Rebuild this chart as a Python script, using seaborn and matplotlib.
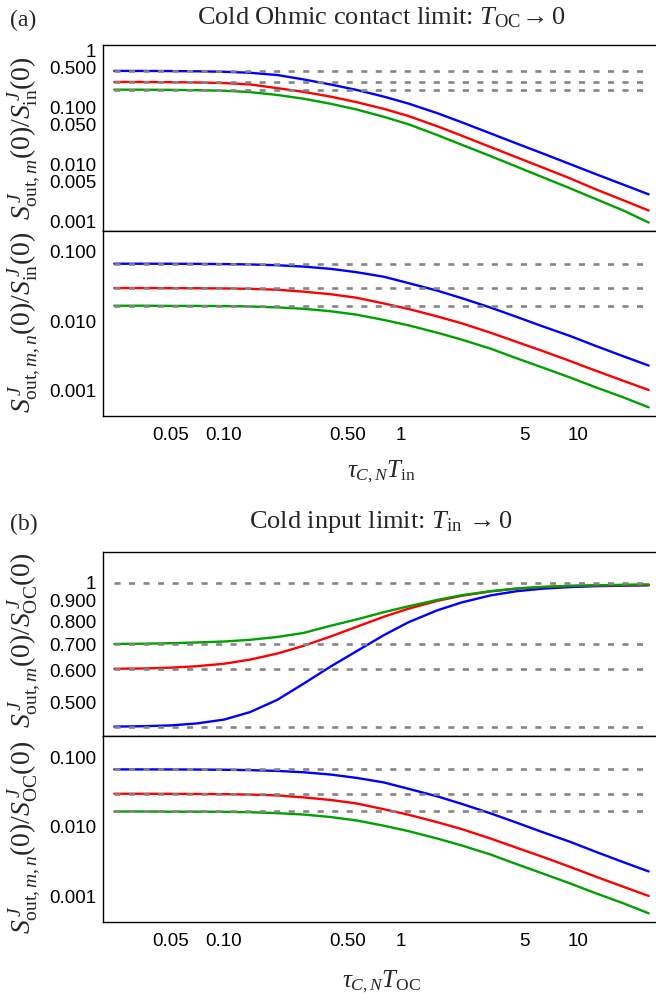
import matplotlib
matplotlib.use("Agg")
import matplotlib.pyplot as plt
import pandas as pd
import seaborn as sns
from matplotlib.ticker import FixedLocator, NullFormatter

x_vals = [0.024, 0.035, 0.05, 0.07, 0.1, 0.14, 0.2, 0.28, 0.4, 0.56, 0.8,
          1.1, 1.6, 2.2, 3.2, 4.5, 6.3, 9, 12.5, 18, 25]

# (a) top: S_out,m / S_in
a_top_blue = [0.442, 0.441, 0.439, 0.435, 0.427, 0.410, 0.374, 0.314, 0.255, 0.205, 0.156,
              0.118, 0.0800, 0.0553, 0.0353, 0.0234, 0.0157, 0.0102, 0.00685, 0.00444, 0.00300]
a_top_red = [0.283, 0.282, 0.280, 0.277, 0.270, 0.256, 0.220, 0.190, 0.156, 0.125, 0.0951,
             0.0713, 0.0471, 0.0322, 0.0203, 0.0134, 0.00888, 0.00573, 0.0037, 0.00236, 0.00156]
a_top_green = [0.207, 0.2066, 0.2052, 0.2028, 0.1981, 0.1875, 0.1671, 0.1439, 0.117, 0.0929, 0.0689,
               0.0511, 0.0330, 0.0223, 0.0141, 0.00918, 0.0060, 0.00383, 0.0025, 0.00156, 0.00096]
a_top_asym = [0.444, 0.284, 0.208]

# (a) bottom: S_out,m,n / S_in
a_bot_blue = [0.0676, 0.0676, 0.0675, 0.0673, 0.0668, 0.0660, 0.0643, 0.0615, 0.0570, 0.0510, 0.0438,
              0.0355, 0.0276, 0.0215, 0.0157, 0.0115, 0.0084, 0.0061, 0.0044, 0.0031, 0.00228]
a_bot_red = [0.0301, 0.0301, 0.0300, 0.0299, 0.0297, 0.0293, 0.0285, 0.0267, 0.0245, 0.0218, 0.0180,
             0.0150, 0.0117, 0.0093, 0.0068, 0.0050, 0.0037, 0.00265, 0.00193, 0.00137, 0.00101]
a_bot_green = [0.0167, 0.0167, 0.0166, 0.0166, 0.0165, 0.0163, 0.0158, 0.0151, 0.0139, 0.0124, 0.0104,
               0.0087, 0.0068, 0.0054, 0.0040, 0.0029, 0.00213, 0.00153, 0.00111, 0.00079, 0.000567]
a_bot_asym = [0.0676, 0.0301, 0.0167]

# (b) top: S_out,m / S_OC
b_top_blue = [0.434, 0.435, 0.437, 0.442, 0.452, 0.472, 0.507, 0.556, 0.615, 0.672, 0.738,
              0.795, 0.852, 0.892, 0.929, 0.952, 0.966, 0.975, 0.980, 0.983, 0.985]
b_top_red = [0.607, 0.608, 0.611, 0.616, 0.625, 0.640, 0.663, 0.693, 0.732, 0.774, 0.821,
             0.860, 0.900, 0.927, 0.951, 0.966, 0.975, 0.981, 0.984, 0.986, 0.987]
b_top_green = [0.701, 0.702, 0.704, 0.707, 0.711, 0.718, 0.730, 0.747, 0.779, 0.808, 0.843,
               0.872, 0.905, 0.930, 0.952, 0.967, 0.976, 0.982, 0.985, 0.988, 0.990]
b_top_asym = [1.0, 0.701, 0.607, 0.434]

# (b) bottom: S_out,m,n / S_OC (same curves as (a) bottom)
b_bot_blue = a_bot_blue
b_bot_red = a_bot_red
b_bot_green = a_bot_green
b_bot_asym = a_bot_asym

x_ticks = [0.05, 0.1, 0.5, 1, 5, 10]
x_ticklabels = ["0.05", "0.10", "0.50", "1", "5", "10"]
x_minor = [0.03, 0.04, 0.06, 0.07, 0.08, 0.09, 0.2, 0.3, 0.4, 0.6, 0.7, 0.8, 0.9,
           2, 3, 4, 6, 7, 8, 9, 20]

sns.set_style("white")
plt.rcParams["font.family"] = ["Liberation Sans", "DejaVu Sans"]
plt.rcParams["mathtext.fontset"] = "custom"
plt.rcParams["mathtext.rm"] = "Liberation Serif"
plt.rcParams["mathtext.it"] = "Liberation Serif:italic"
plt.rcParams["mathtext.bf"] = "Liberation Serif:bold"

COLORS = {"blue": "#0000ff", "red": "#ff0000", "green": "#00a000"}
W, H = 656, 1000
LEFT, RIGHT = 103.3, 656
XLIM = (0.0208, 27.5)


def add_panel(fig, top_px, bot_px):
    return fig.add_axes([LEFT / W, 1 - bot_px / H, (RIGHT - LEFT) / W, (bot_px - top_px) / H])


def draw(ax, blue, red, green, asym, ylim, yticks, yticklabels, yminor, xlabels, yticklen):
    n = len(x_vals)
    df = pd.DataFrame({
        "x": x_vals * 3,
        "y": blue + red + green,
        "curve": ["blue"] * n + ["red"] * n + ["green"] * n,
    })
    sns.lineplot(data=df, x="x", y="y", hue="curve", palette=COLORS, ax=ax,
                 linewidth=1.7, legend=False, sort=False)
    for a in asym:
        ax.plot([x_vals[0], x_vals[-1]], [a, a], color="#858585", lw=1.9,
                dashes=(2.3, 3.2), zorder=5)
    ax.set_xscale("log")
    ax.set_yscale("log")
    ax.set_xlim(*XLIM)
    ax.set_ylim(*ylim)
    ax.xaxis.set_major_locator(FixedLocator(x_ticks))
    ax.xaxis.set_minor_locator(FixedLocator(x_minor))
    ax.xaxis.set_minor_formatter(NullFormatter())
    ax.set_xticklabels(x_ticklabels if xlabels else [])
    ax.yaxis.set_major_locator(FixedLocator(yticks))
    ax.set_yticklabels(yticklabels)
    ax.yaxis.set_minor_locator(FixedLocator(yminor))
    ax.yaxis.set_minor_formatter(NullFormatter())
    ax.tick_params(which="both", direction="in", labelsize=13.5, width=0.8, pad=5,
                   top=False, right=False, colors="black")
    ax.tick_params(axis="x", which="major", length=5.5, pad=8)
    ax.tick_params(axis="x", which="minor", length=3)
    ax.tick_params(axis="y", which="major", length=yticklen)
    ax.tick_params(axis="y", which="minor", length=yticklen * 0.6)
    ax.spines["right"].set_visible(False)
    for s in ["left", "bottom", "top"]:
        ax.spines[s].set_linewidth(1.0)
        ax.spines[s].set_color("black")
    ax.set_xlabel("")
    ax.set_ylabel("")


fig = plt.figure(figsize=(W / 100, H / 100), dpi=100)

y1_ticks = [1, 0.5, 0.1, 0.05, 0.01, 0.005, 0.001]
y1_labels = ["1", "0.500", "0.100", "0.050", "0.010", "0.005", "0.001"]
y1_minor = [0.2, 0.3, 0.4, 0.6, 0.7, 0.8, 0.9, 0.02, 0.03, 0.04, 0.06, 0.07, 0.08, 0.09,
            0.002, 0.003, 0.004, 0.006, 0.007, 0.008, 0.009, 0.0007, 0.0008, 0.0009]
y2_ticks = [0.1, 0.01, 0.001]
y2_labels = ["0.100", "0.010", "0.001"]
y3_ticks = [1, 0.9, 0.8, 0.7, 0.6, 0.5]
y3_labels = ["1", "0.900", "0.800", "0.700", "0.600", "0.500"]

ax1 = add_panel(fig, 45, 230.7)
draw(ax1, a_top_blue, a_top_red, a_top_green, a_top_asym, (6.9e-4, 1.26),
     y1_ticks, y1_labels, y1_minor, False, 5.5)
ax2 = add_panel(fig, 230.7, 416)
draw(ax2, a_bot_blue, a_bot_red, a_bot_green, a_bot_asym, (4.25e-4, 0.203),
     y2_ticks, y2_labels, [], True, 0)
ax3 = add_panel(fig, 551.7, 736)
draw(ax3, b_top_blue, b_top_red, b_top_green, b_top_asym, (0.411, 1.197),
     y3_ticks, y3_labels, [], False, 0)
ax4 = add_panel(fig, 736.3, 922)
draw(ax4, b_bot_blue, b_bot_red, b_bot_green, b_bot_asym, (4.25e-4, 0.203),
     y2_ticks, y2_labels, [], True, 0)

serif = ["Liberation Serif", "DejaVu Serif"]
fig.text(23 / W, 1 - 20 / H, "(a)", ha="center", va="center", fontsize=17, family=serif)
fig.text(24 / W, 1 - 524 / H, "(b)", ha="center", va="center", fontsize=17, family=serif)
fig.text(381 / W, 1 - 18 / H, r"Cold Ohmic contact limit: $T_{\mathrm{OC}}\!\rightarrow 0$",
         ha="center", va="center", fontsize=19, family=serif)
fig.text(381 / W, 1 - 522 / H, r"Cold input limit: $T_{\mathrm{in}}\,\rightarrow 0$",
         ha="center", va="center", fontsize=19, family=serif)
fig.text(382 / W, 1 - 472 / H, r"$\tau_{C,N}T_{\mathrm{in}}$",
         ha="center", va="center", fontsize=18, family=serif)
fig.text(382 / W, 1 - 982 / H, r"$\tau_{C,N}T_{\mathrm{OC}}$",
         ha="center", va="center", fontsize=18, family=serif)

ylab_a1 = r"$S^{\,J}_{\mathrm{out},m}(0)/S^{\,J}_{\mathrm{in}}(0)$"
ylab_a2 = r"$S^{\,J}_{\mathrm{out},m,n}(0)/S^{\,J}_{\mathrm{in}}(0)$"
ylab_b1 = r"$S^{\,J}_{\mathrm{out},m}(0)/S^{\,J}_{\mathrm{OC}}(0)$"
ylab_b2 = r"$S^{\,J}_{\mathrm{out},m,n}(0)/S^{\,J}_{\mathrm{OC}}(0)$"
for lab, ymid in [(ylab_a1, 138), (ylab_a2, 322), (ylab_b1, 640), (ylab_b2, 837)]:
    fig.text(24 / W, 1 - ymid / H, lab, ha="center", va="center", rotation=90,
             fontsize=20, family=serif)

fig.savefig("out.png", dpi=100)
